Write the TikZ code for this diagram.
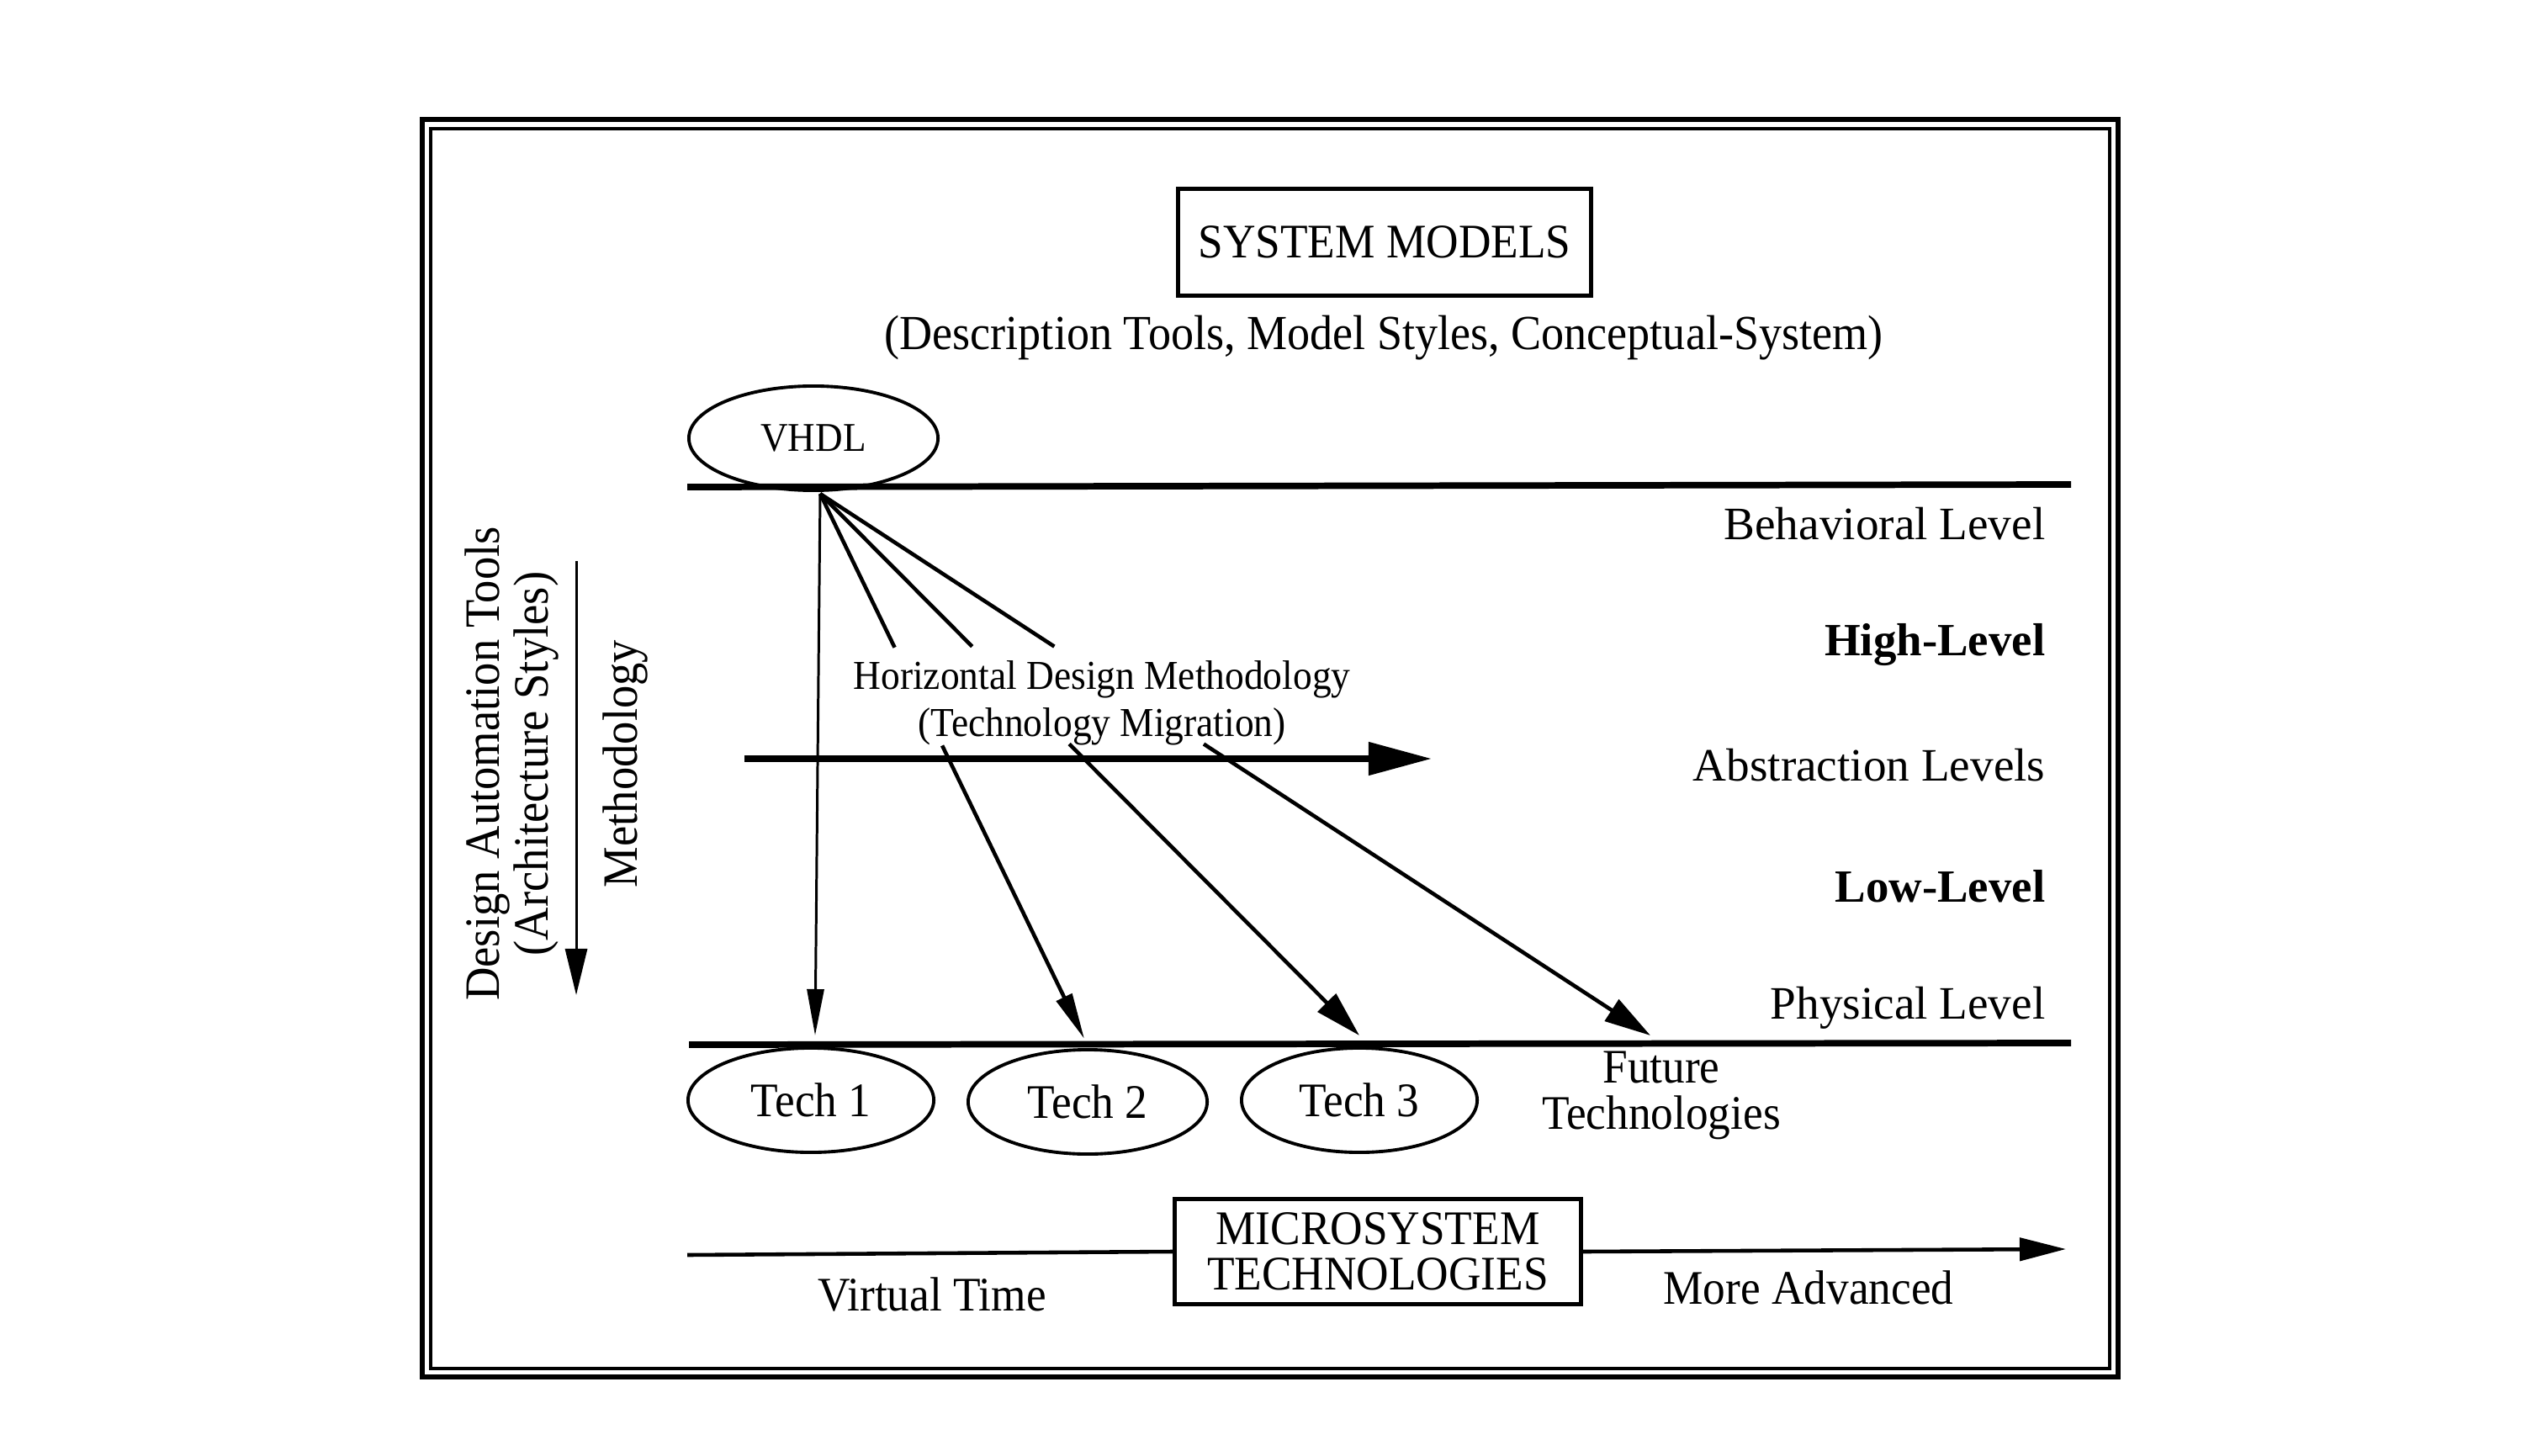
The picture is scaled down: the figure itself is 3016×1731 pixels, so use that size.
\documentclass[tikz,border=0pt]{standalone}
\usepackage{fontspec}
\setmainfont{Liberation Serif}[FakeStretch=0.93]
\newfontfamily\lvlfont{Liberation Serif}
\usetikzlibrary{arrows.meta,shapes.geometric,calc}
\begin{document}
\begin{tikzpicture}[x=0.01cm,y=-0.01cm,
  txt/.style={font=\fontsize{16.3}{18}\selectfont, inner sep=0pt},
  lvl/.style={font=\lvlfont\fontsize{15.7}{18}\selectfont, anchor=east, inner sep=0pt},
  lvlb/.style={lvl, font=\lvlfont\bfseries\fontsize{15.6}{18}\selectfont},
  oval/.style={ellipse, draw, line width=1.1pt, inner sep=0pt, txt},
  boxed/.style={draw, line width=1.3pt, inner sep=0pt, txt, align=center},
  levelline/.style={line width=2.2pt},
  fanline/.style={line width=1.3pt},
  thinline/.style={line width=0.85pt},
  smalltip/.style={-{Triangle[length=0.55cm,width=0.2cm]}},
  bigtip/.style={-{Triangle[length=0.55cm,width=0.3cm]}},
]
\useasboundingbox (0,0) rectangle (3016,1731);
% frame
\draw[line width=1.5pt] (502,142) rectangle (2518,1637);
\draw[line width=0.9pt] (512,153) rectangle (2508,1627);

% header
\node[boxed, minimum width=4.91cm, minimum height=1.27cm] (sm) at (1646,288) {SYSTEM MODELS};
\node[txt, font=\fontsize{16.55}{18}\selectfont] (sub) at (1645,402) {(Description Tools, Model Styles, Conceptual-System)};

% VHDL and level lines
\node[oval, minimum width=2.96cm, minimum height=1.24cm, font=\fontsize{13.8}{16}\selectfont] (vhdl) at (967,521) {VHDL};
\coordinate (bl) at (817,579);
\coordinate (br) at (2462,576);
\draw[levelline] (bl) -- (br);
\coordinate (pl) at (819,1242);
\coordinate (pr) at (2462,1240);
\draw[levelline] (pl) -- (pr);

% level labels
\node[lvl]  (beh)  at (2432,623)  {Behavioral Level};
\node[lvlb] (high) at (2432,767)  {High-Level};
\node[lvl]  (abs)  at (2432,910)  {Abstraction Levels};
\node[lvlb] (low)  at (2432,1054) {Low-Level};
\node[lvl]  (phys) at (2432,1198) {Physical Level};

% technologies
\node[oval, minimum width=2.92cm, minimum height=1.24cm] (t1) at (964,1308) {Tech 1};
\node[oval, minimum width=2.84cm, minimum height=1.24cm] (t2) at (1293,1310) {Tech 2};
\node[oval, minimum width=2.80cm, minimum height=1.24cm] (t3) at (1616,1308) {Tech 3};
\node[txt, align=center, font=\fontsize{16.3}{15.6}\selectfont] (fut) at (1975,1302) {Future\\Technologies};

% abstraction arrow
\coordinate (aa) at (885,902);
\coordinate (ab) at (1702,902);
\draw[levelline, -{Triangle[length=0.75cm,width=0.38cm]}] (aa) -- (ab);

% fan of migration arrows
\coordinate (apex) at (975,587);
\coordinate (k1) at (969,1231);
\coordinate (k2) at (1289,1235);
\coordinate (k3) at (1616,1231);
\coordinate (k4) at (1962,1231);
\draw[thinline, smalltip] (apex) -- (k1);
\draw[fanline] (apex) -- ($(apex)!0.282!(k2)$);
\draw[fanline, smalltip] ($(apex)!0.462!(k2)$) -- (k2);
\draw[fanline] (apex) -- ($(apex)!0.282!(k3)$);
\draw[fanline, bigtip] ($(apex)!0.462!(k3)$) -- (k3);
\draw[fanline] (apex) -- ($(apex)!0.282!(k4)$);
\draw[fanline, bigtip] ($(apex)!0.462!(k4)$) -- (k4);
\node[txt, align=center, font=\fontsize{13.9}{15.9}\selectfont] (hdm) at (1310,836) {Horizontal Design Methodology\\(Technology Migration)};

% bottom timeline
\node[boxed, minimum width=4.83cm, minimum height=1.25cm, font=\fontsize{16.3}{15.4}\selectfont] (mst) at (1638,1488) {MICROSYSTEM\\TECHNOLOGIES};
\coordinate (tl) at (817,1492);
\coordinate (tr) at (2456,1485);
\draw[fanline] (tl) -- (mst.west);
\draw[fanline, -{Triangle[length=0.55cm,width=0.27cm]}] (mst.east) -- (tr);
\node[txt] (vt) at (1108,1539) {Virtual Time};
\node[txt] (ma) at (2150,1531) {More Advanced};

% left side
\node[txt, rotate=90, align=center, font=\fontsize{16.7}{16.5}\selectfont] (dat) at (608,908) {Design Automation Tools\\(Architecture Styles)};
\node[txt, rotate=90, font=\fontsize{16.7}{18}\selectfont] (meth) at (743,908) {Methodology};
\coordinate (m1) at (685,667);
\coordinate (m2) at (685,1183);
\draw[thinline, -{Triangle[length=0.55cm,width=0.26cm]}] (m1) -- (m2);
\end{tikzpicture}
\end{document}
